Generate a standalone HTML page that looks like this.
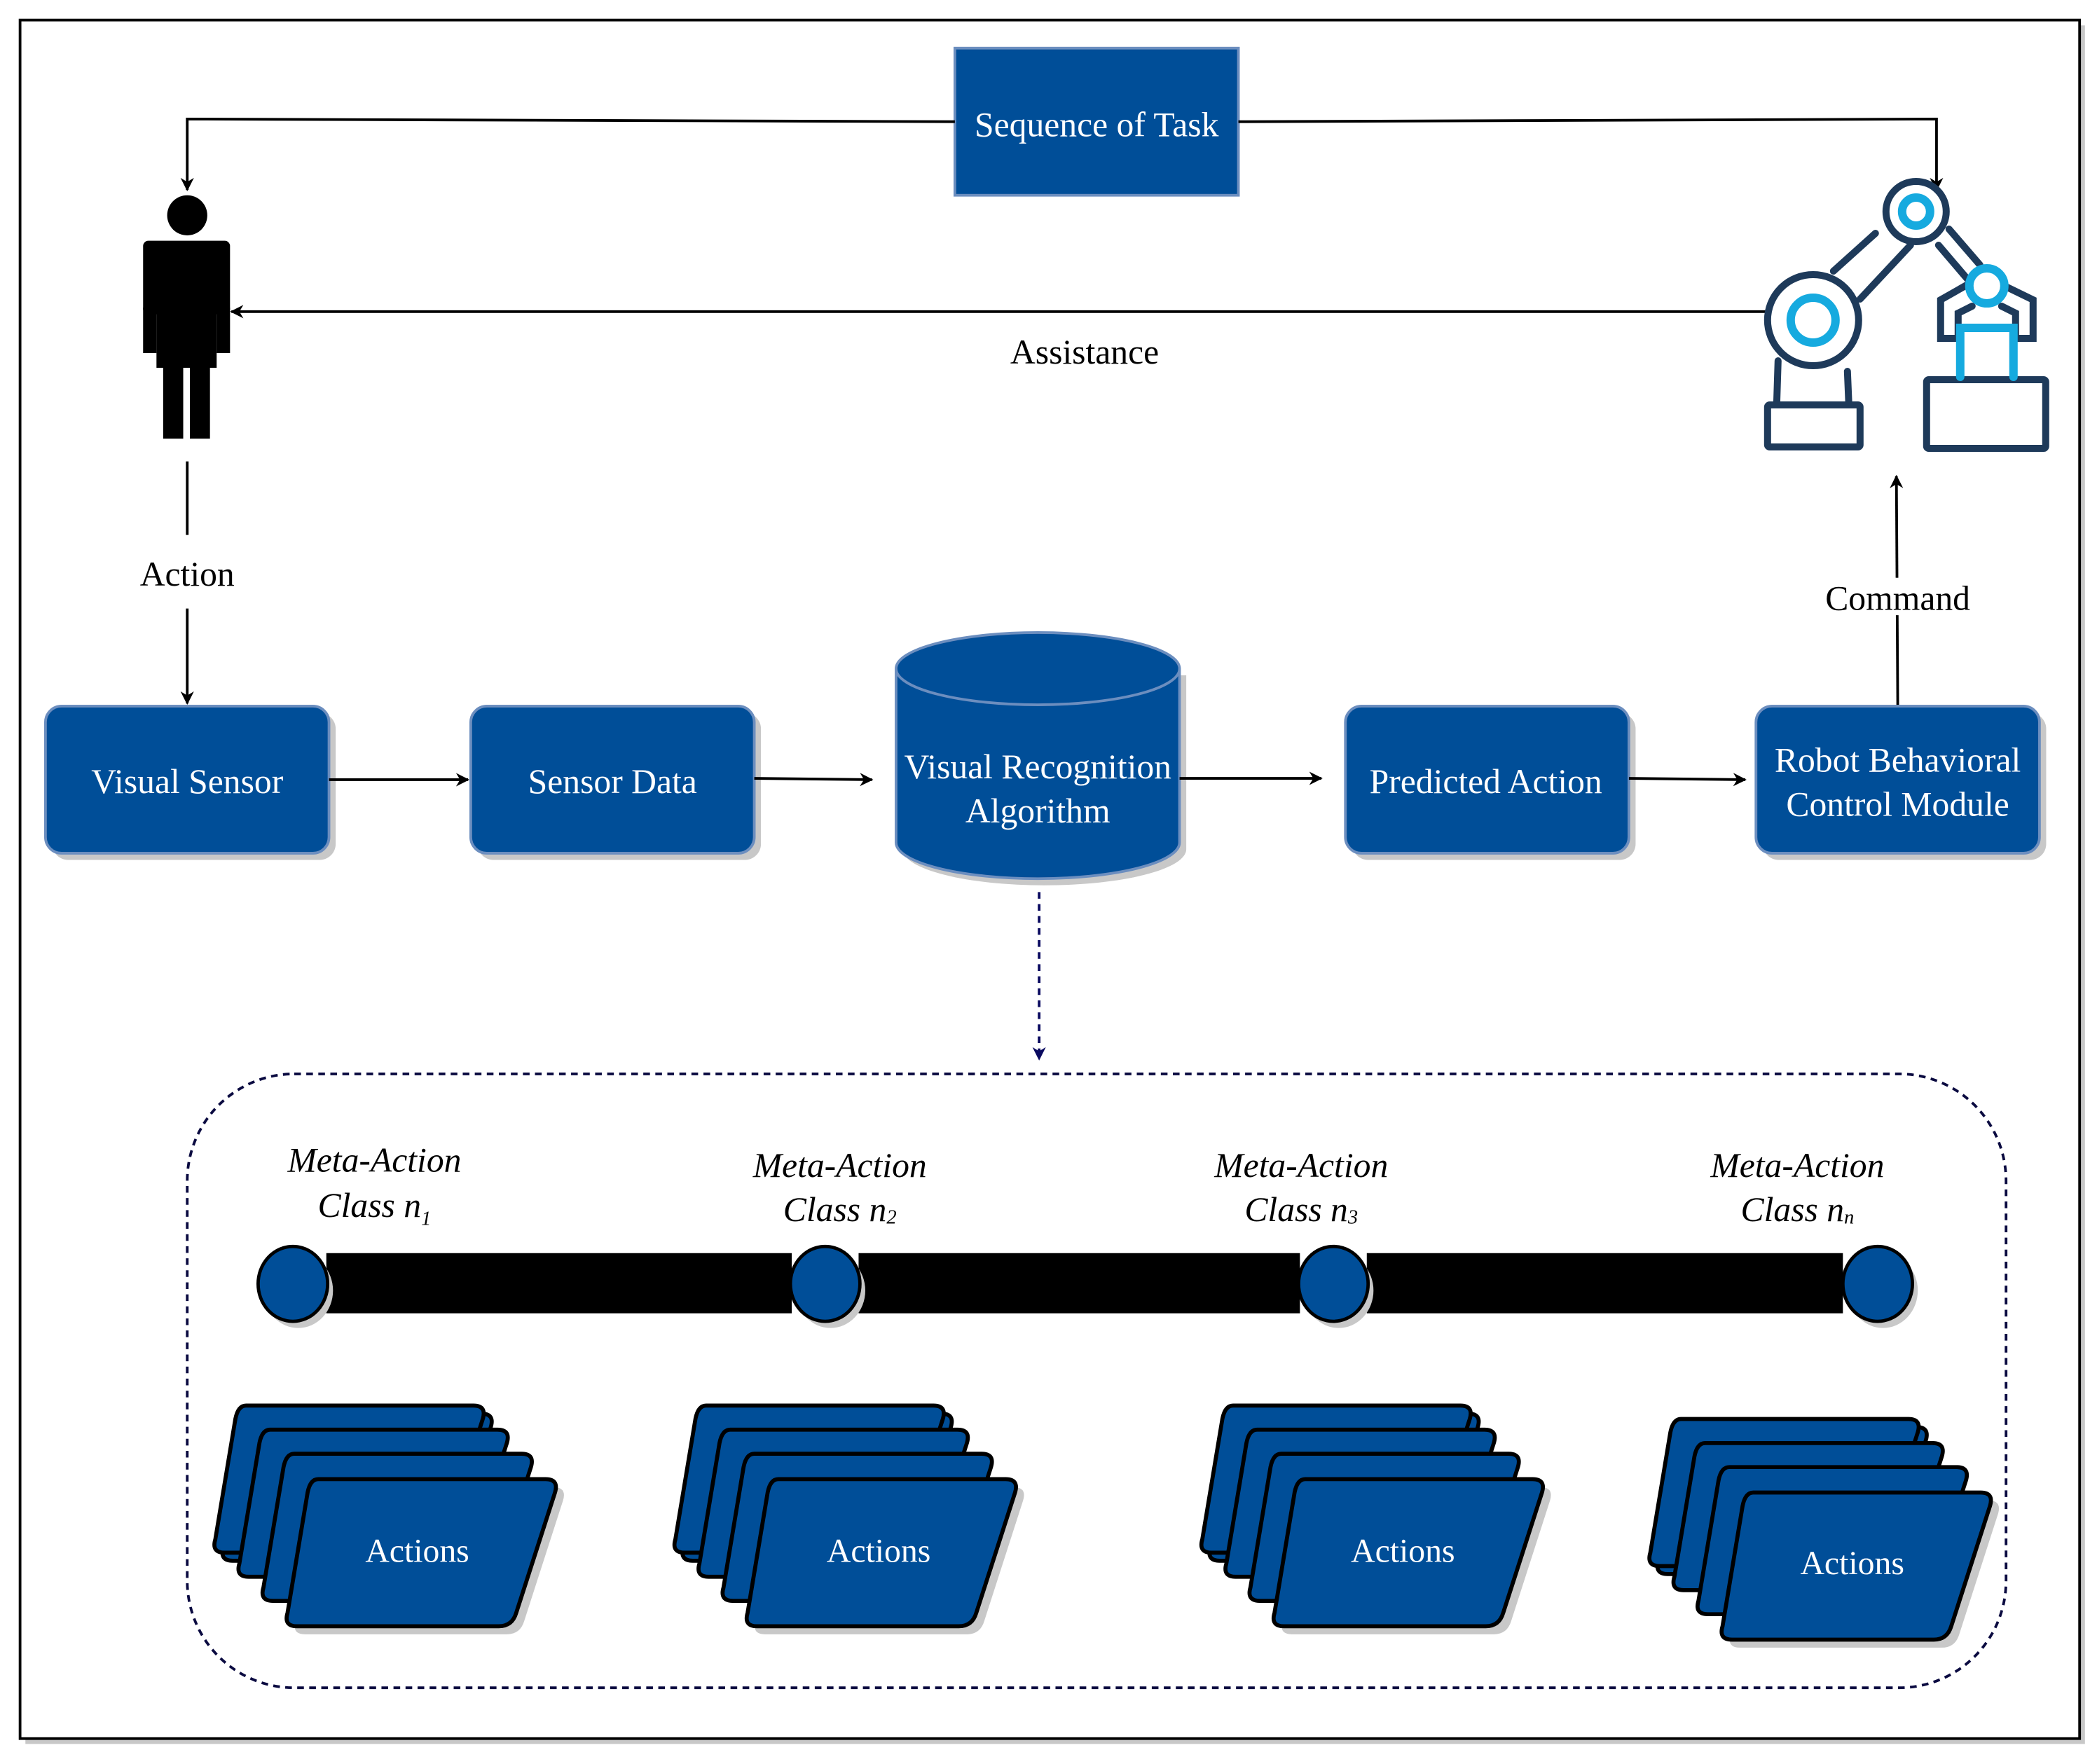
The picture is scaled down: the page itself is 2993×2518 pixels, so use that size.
<!DOCTYPE html>
<html><head><meta charset="utf-8"><style>html,body{margin:0;padding:0;background:#fff}svg{display:block}</style></head>
<body>
<svg width="2993" height="2518" viewBox="0 0 1568 1319" preserveAspectRatio="none" xmlns="http://www.w3.org/2000/svg" font-family="Liberation Serif, serif">
<defs>
<marker id="ar" markerWidth="10" markerHeight="10" refX="9" refY="5" orient="auto" markerUnits="userSpaceOnUse"><path d="M0,0 L10,5 L0,10 L3,5 Z" fill="#000"/></marker>
<marker id="arn" markerWidth="10" markerHeight="10" refX="9" refY="5" orient="auto" markerUnits="userSpaceOnUse"><path d="M0,0 L10,5 L0,10 L3,5 Z" fill="#0a0a60"/></marker>
<g id="card"><path d="M26,0 H196 Q206,0 203,10 L174,100 Q171,110 161,110 H10 Q0,110 3,100 L18,10 Q20,0 26,0 Z" fill="#004E98" stroke="#000" stroke-width="3"/></g>
<g id="stack">
<use href="#card" x="6" y="6" fill="#bbb"/>
<use href="#card" x="0" y="0"/>
<use href="#card" x="18" y="18"/>
<use href="#card" x="36" y="36"/>
<path transform="translate(60,61)" d="M26,0 H196 Q206,0 203,10 L174,100 Q171,110 161,110 H10 Q0,110 3,100 L18,10 Q20,0 26,0 Z" fill="#c8c8c8"/>
<use href="#card" x="54" y="55"/>
</g>
</defs>
<!-- outer frame -->
<rect x="19" y="19" width="1540" height="1285" fill="#c8c8c8"/>
<rect x="15" y="15" width="1540" height="1285" fill="#fff" stroke="#000" stroke-width="2"/>

<!-- Sequence of Task -->
<rect x="714" y="36" width="212" height="110" fill="#004E98" stroke="#6C8EBF" stroke-width="2"/>
<text x="820" y="102" fill="#fff" font-size="26" text-anchor="middle">Sequence of Task</text>
<polyline points="714,91 140,89 140,142" fill="none" stroke="#000" stroke-width="2" marker-end="url(#ar)"/>
<polyline points="926,91 1448,89 1448,142" fill="none" stroke="#000" stroke-width="2" marker-end="url(#ar)"/>

<!-- person -->
<g fill="#000">
<circle cx="140" cy="161" r="15"/>
<rect x="107" y="180" width="65" height="55" rx="4"/>
<rect x="107" y="230" width="10" height="34"/>
<rect x="162" y="230" width="10" height="34"/>
<rect x="117" y="230" width="45" height="45"/>
<rect x="122" y="270" width="15" height="58"/>
<rect x="142" y="270" width="15" height="58"/>
</g>

<!-- assistance -->
<line x1="1320" y1="233" x2="173" y2="233" stroke="#000" stroke-width="2" marker-end="url(#ar)"/>
<text x="811" y="272" font-size="26" text-anchor="middle">Assistance</text>

<!-- action -->
<line x1="140" y1="345" x2="140" y2="400" stroke="#000" stroke-width="2"/>
<text x="140" y="438" font-size="26" text-anchor="middle">Action</text>
<line x1="140" y1="455" x2="140" y2="526" stroke="#000" stroke-width="2" marker-end="url(#ar)"/>

<!-- row boxes -->
<g fill="#c8c8c8">
<rect x="39" y="533" width="212" height="110" rx="12"/>
<rect x="357" y="533" width="212" height="110" rx="12"/>
<rect x="1011" y="533" width="212" height="110" rx="12"/>
<rect x="1318" y="533" width="212" height="110" rx="12"/>
<path d="M675,505 V635 A106,27 0 0 0 887,635 V505 Z"/>
</g>
<g fill="#004E98" stroke="#6C8EBF" stroke-width="2">
<rect x="34" y="528" width="212" height="110" rx="12"/>
<rect x="352" y="528" width="212" height="110" rx="12"/>
<rect x="1006" y="528" width="212" height="110" rx="12"/>
<rect x="1313" y="528" width="212" height="110" rx="12"/>
<path d="M670,500 V630 A106,27 0 0 0 882,630 V500 A106,27 0 0 0 670,500 Z"/>
<path d="M670,500 A106,27 0 0 0 882,500" fill="none"/>
</g>
<g fill="#fff" font-size="26" text-anchor="middle">
<text x="140" y="593">Visual Sensor</text>
<text x="458" y="593">Sensor Data</text>
<text x="776" y="582">Visual Recognition</text>
<text x="776" y="615">Algorithm</text>
<text x="1111" y="593">Predicted Action</text>
<text x="1419" y="577">Robot Behavioral</text>
<text x="1419" y="610">Control Module</text>
</g>
<g stroke="#000" stroke-width="2" marker-end="url(#ar)">
<line x1="246" y1="583" x2="350" y2="583"/>
<line x1="564" y1="582" x2="652" y2="583"/>
<line x1="882" y1="582" x2="988" y2="582"/>
<line x1="1218" y1="582" x2="1305" y2="583"/>
<line x1="1419" y1="527" x2="1418" y2="356"/>
</g>
<rect x="1362" y="432" width="114" height="28" fill="#fff"/>
<text x="1419" y="456" font-size="26" text-anchor="middle">Command</text>

<!-- robot (real-pixel coords) -->
<g transform="scale(0.52385)" fill="none" stroke-linecap="round">
<g stroke="#1E3A5A" stroke-width="10">
<rect x="2523" y="578" width="132" height="60" rx="3"/>
<rect x="2750" y="542" width="170" height="98" rx="3"/>
<circle cx="2588" cy="457" r="65"/>
<line x1="2538" y1="515" x2="2536" y2="578"/>
<line x1="2637" y1="530" x2="2639" y2="578"/>
<line x1="2617" y1="387" x2="2677" y2="333"/>
<line x1="2655" y1="427" x2="2727" y2="350"/>
<circle cx="2735" cy="302" r="43"/>
<line x1="2767" y1="350" x2="2808" y2="398"/>
<line x1="2782" y1="327" x2="2826" y2="378"/>
<polyline points="2807,407 2770,428 2770,483 2795,483"/>
<polyline points="2795,483 2795,447 2815,437"/>
<polyline points="2865,410 2902,428 2902,483 2877,483"/>
<polyline points="2877,483 2877,447 2857,437"/>
</g>
<g stroke="#16AADF" stroke-width="12">
<circle cx="2588" cy="457" r="32"/>
<circle cx="2735" cy="302" r="20"/>
<circle cx="2836" cy="408" r="25"/>
<polyline points="2798,538 2798,468 2874,468 2874,538"/>
</g>
</g>

<!-- dashed connector -->
<line x1="777" y1="667" x2="777" y2="792" stroke="#0a0a60" stroke-width="2" stroke-dasharray="5,4" marker-end="url(#arn)"/>
<rect x="140" y="803" width="1360" height="459" rx="80" fill="none" stroke="#0a0a40" stroke-width="2" stroke-dasharray="5,4"/>

<!-- meta-action labels -->
<g font-size="26" font-style="italic" text-anchor="middle">
<text x="280" y="876">Meta-Action</text>
<text x="280" y="910">Class n<tspan font-size="15" dy="6">1</tspan></text>
<text x="628" y="880">Meta-Action</text>
<text x="628" y="913">Class n<tspan font-size="15" dy="2">2</tspan></text>
<text x="973" y="880">Meta-Action</text>
<text x="973" y="913">Class n<tspan font-size="15" dy="2">3</tspan></text>
<text x="1344" y="880">Meta-Action</text>
<text x="1344" y="913">Class n<tspan font-size="15" dy="2">n</tspan></text>
</g>

<!-- timeline -->
<g fill="#000">
<rect x="244" y="937" width="348" height="45"/>
<rect x="642" y="937" width="330" height="45"/>
<rect x="1022" y="937" width="356" height="45"/>
</g>
<g fill="#c8c8c8">
<ellipse cx="223" cy="965" rx="26" ry="28"/>
<ellipse cx="621" cy="965" rx="26" ry="28"/>
<ellipse cx="1001" cy="965" rx="26" ry="28"/>
<ellipse cx="1408" cy="965" rx="26" ry="28"/>
</g>
<g fill="#004E98" stroke="#000" stroke-width="2.5">
<ellipse cx="219" cy="960" rx="26" ry="28"/>
<ellipse cx="617" cy="960" rx="26" ry="28"/>
<ellipse cx="997" cy="960" rx="26" ry="28"/>
<ellipse cx="1404" cy="960" rx="26" ry="28"/>
</g>

<!-- action stacks -->
<use href="#stack" x="158" y="1051"/>
<use href="#stack" x="502" y="1051"/>
<use href="#stack" x="896" y="1051"/>
<use href="#stack" x="1231" y="1061"/>
<g fill="#fff" font-size="25" text-anchor="middle">
<text x="312" y="1168">Actions</text>
<text x="657" y="1168">Actions</text>
<text x="1049" y="1168">Actions</text>
<text x="1385" y="1177">Actions</text>
</g>
</svg>
</body></html>
